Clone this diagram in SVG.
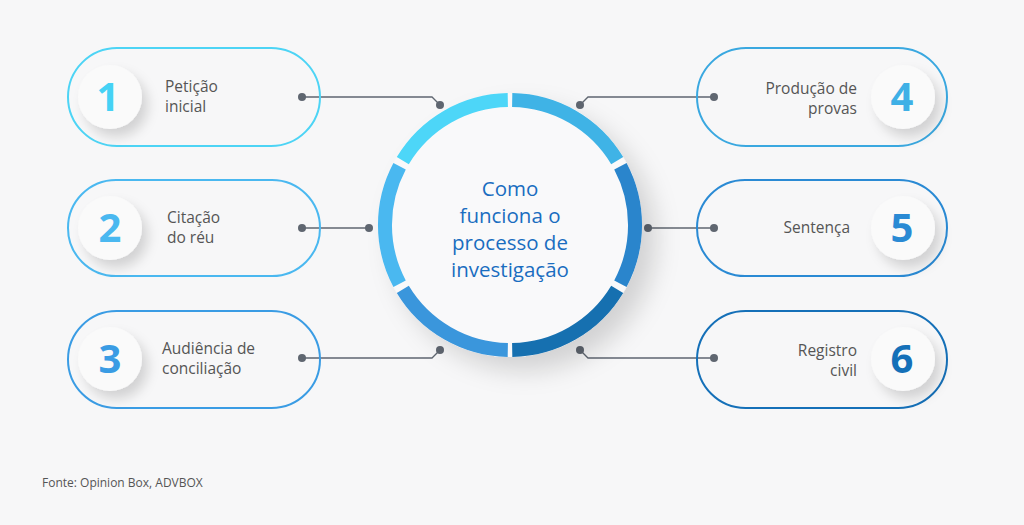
<svg xmlns="http://www.w3.org/2000/svg" width="1024" height="525" viewBox="0 0 1024 525">
<defs>
<filter id="sh" x="-50%" y="-50%" width="200%" height="200%"><feDropShadow dx="6" dy="8" stdDeviation="6" flood-color="#000" flood-opacity="0.15"/></filter>
<filter id="shb" x="-50%" y="-50%" width="200%" height="200%"><feDropShadow dx="14" dy="14" stdDeviation="12" flood-color="#000" flood-opacity="0.15"/></filter>
<style>
.pill{fill:none;stroke-width:2}
.num{fill:#fafafa;filter:url(#sh)}
.n{font-family:"Open Sans",sans-serif;font-weight:700;font-size:40px;text-anchor:middle}
.t{font-family:"Open Sans",sans-serif;font-size:15.5px;fill:#555}
.c{font-family:"Open Sans",sans-serif;font-size:20.5px;fill:#1a6dc0;text-anchor:middle}
.ln{stroke:#5f6670;stroke-width:1.3;fill:none}
.d{fill:#5f6670}
.seg{fill:none;stroke-width:14}
</style>
</defs>
<rect width="1024" height="525" fill="#f7f7f8"/>
<g id="connectors">
<path class="ln" d="M302 97H432L440 105"/><circle class="d" cx="302" cy="97" r="4"/><circle class="d" cx="440" cy="105" r="4"/>
<path class="ln" d="M302 228H369"/><circle class="d" cx="302" cy="228" r="4"/><circle class="d" cx="369" cy="228" r="4"/>
<path class="ln" d="M302 358H432L440 350"/><circle class="d" cx="302" cy="358" r="4"/><circle class="d" cx="440" cy="350" r="4"/>
<path class="ln" d="M714 97H588L580 105"/><circle class="d" cx="714" cy="97" r="4"/><circle class="d" cx="580" cy="105" r="4"/>
<path class="ln" d="M714 228H648"/><circle class="d" cx="714" cy="228" r="4"/><circle class="d" cx="648" cy="228" r="4"/>
<path class="ln" d="M714 358H588L580 350"/><circle class="d" cx="714" cy="358" r="4"/><circle class="d" cx="580" cy="350" r="4"/>
</g>
<g id="center">
<circle cx="510" cy="225" r="132" fill="#f9f9fa" filter="url(#shb)"/>
<g transform="translate(510 225)">
<path class="seg" stroke="#4dd6f8" d="M-2.2 -125A125 125 0 0 0 -107.2 -64.4"/>
<path class="seg" stroke="#4ab8f0" d="M-110.4 -58.7A125 125 0 0 0 -110.4 58.7"/>
<path class="seg" stroke="#3a96dc" d="M-107.2 64.4A125 125 0 0 0 -2.2 125"/>
<path class="seg" stroke="#3fb3e6" d="M2.2 -125A125 125 0 0 1 107.2 -64.4"/>
<path class="seg" stroke="#2a85cc" d="M110.4 -58.7A125 125 0 0 1 110.4 58.7"/>
<path class="seg" stroke="#1670b0" d="M107.2 64.4A125 125 0 0 1 2.2 125"/>
</g>
<text class="c"><tspan x="510" y="196">Como</tspan><tspan x="510" y="223">funciona o</tspan><tspan x="510" y="250">processo de</tspan><tspan x="510" y="277">investigação</tspan></text>
</g>
<g id="n1"><rect class="pill" stroke="#4dd4f5" x="68" y="48" width="252" height="98" rx="49"/><circle class="num" cx="110" cy="97" r="32"/><text class="n" fill="#45d2f5" x="108" y="111">1</text><text class="t"><tspan x="165" y="92">Petição</tspan><tspan x="165" y="112">inicial</tspan></text></g>
<g id="n2"><rect class="pill" stroke="#4ab8f0" x="68" y="180" width="252" height="96" rx="48"/><circle class="num" cx="110" cy="228" r="32"/><text class="n" fill="#4ab8f0" x="110" y="242">2</text><text class="t"><tspan x="167" y="223">Citação</tspan><tspan x="167" y="243">do réu</tspan></text></g>
<g id="n3"><rect class="pill" stroke="#3a9ce4" x="68" y="311" width="252" height="97" rx="48.5"/><circle class="num" cx="110" cy="359" r="32"/><text class="n" fill="#3a9ce4" x="110" y="373">3</text><text class="t"><tspan x="162" y="354">Audiência de</tspan><tspan x="162" y="374">conciliação</tspan></text></g>
<g id="n4"><rect class="pill" stroke="#3aa8e0" x="697" y="48" width="250" height="98" rx="49"/><circle class="num" cx="903" cy="97" r="32"/><text class="n" fill="#3fb0e6" x="902" y="111">4</text><text class="t" text-anchor="end"><tspan x="857" y="94">Produção de</tspan><tspan x="857" y="114">provas</tspan></text></g>
<g id="n5"><rect class="pill" stroke="#2a8ad4" x="697" y="180" width="250" height="96" rx="48"/><circle class="num" cx="903" cy="228" r="32"/><text class="n" fill="#2a8ad4" x="902" y="242">5</text><text class="t" text-anchor="end" x="850" y="233">Sentença</text></g>
<g id="n6"><rect class="pill" stroke="#1570b8" x="697" y="311" width="250" height="97" rx="48.5"/><circle class="num" cx="903" cy="359" r="32"/><text class="n" fill="#1570b8" x="902" y="373">6</text><text class="t" text-anchor="end"><tspan x="857" y="356">Registro</tspan><tspan x="857" y="376">civil</tspan></text></g>
<text x="42" y="487" font-family="Open Sans,sans-serif" font-size="12" fill="#555">Fonte: Opinion Box, ADVBOX</text>
</svg>
